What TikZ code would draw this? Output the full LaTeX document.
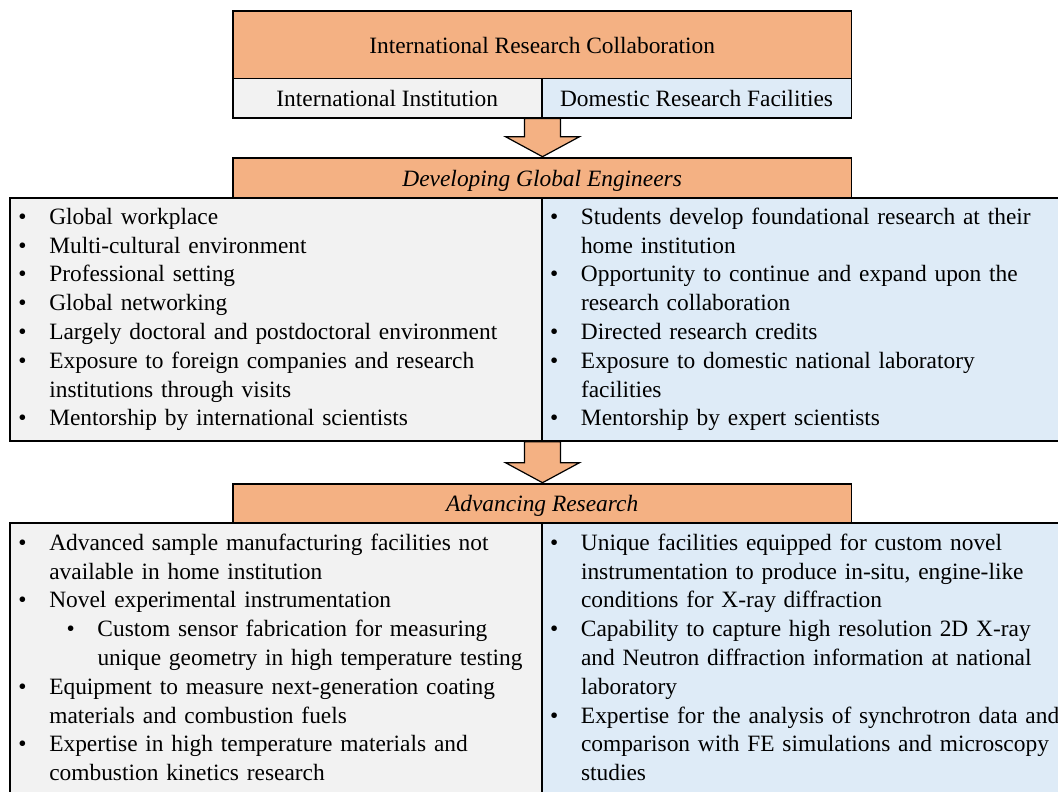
\documentclass[tikz,border=0pt]{standalone}
\usepackage{fontspec}
\setmainfont{Liberation Serif}
\usetikzlibrary{calc}

\definecolor{headfill}{HTML}{F4B183}
\definecolor{leftfill}{HTML}{F2F2F2}
\definecolor{rightfill}{HTML}{DEEBF7}

% bullet items with a hanging indent for wrapped lines
\newcommand{\itm}[1]{\noindent\hangindent=31pt\hangafter=1\strut\makebox[31pt][l]{•}#1\strut\par}
\newcommand{\subitm}[1]{\noindent\hangindent=79.2pt\hangafter=1\strut\hspace*{48.4pt}\makebox[30.8pt][l]{•}#1\strut\par}

\begin{document}
\begin{tikzpicture}[x=1pt,y=-1pt,
  font=\fontsize{23.4}{28.8}\selectfont,
  box/.style={draw=black, line width=1.8pt, anchor=north west, inner sep=0pt,
              text height=18pt, text depth=1pt},
  listtext/.style={anchor=north west, inner sep=0pt, text width=525pt, align=left,
              execute at begin node={\setlength{\parskip}{0pt}\hyphenpenalty=10000}},
  blockarrow/.style={draw=black, line width=1.2pt, fill=headfill, line join=miter}]

\useasboundingbox (0,0) rectangle (1058,792);
\clip (0,0) rectangle (1058,792);

% content panels
\node[box, fill=leftfill,  minimum width=531.7pt, minimum height=243.3pt] (gl) at (9,196.7) {};
\node[box, fill=rightfill, minimum width=535pt,   minimum height=243.3pt] (gr) at (540.7,196.7) {};
\node[box, fill=leftfill,  minimum width=531.7pt, minimum height=300pt]   (al) at (9,521.7) {};
\node[box, fill=rightfill, minimum width=535pt,   minimum height=300pt]   (ar) at (540.7,521.7) {};

% header blocks
\node[box, fill=headfill, minimum width=618.5pt, minimum height=67.7pt] (irc) at (232,10) {International Research Collaboration};
\node[box, fill=leftfill,  minimum width=308.7pt, minimum height=39pt] (intl) at (232,77.7) {International Institution};
\node[box, fill=rightfill, minimum width=309.8pt, minimum height=39pt] (dom) at (540.7,77.7) {Domestic Research Facilities};
\node[box, fill=headfill, minimum width=618.5pt, minimum height=40pt] (dge) at (232,156.7) {\itshape Developing Global Engineers};
\node[box, fill=headfill, minimum width=618.5pt, minimum height=39pt] (adv) at (232,482.7) {\itshape Advancing Research};

% block arrows between the stages
\path (intl.south east) coordinate (a1s) (intl.south east |- dge.north) coordinate (a1t);
\draw[blockarrow] ($(a1s)+(-18,0)$) -- ($(a1s)+(18,0)$) -- ($(a1t)+(18,-20)$) -- ($(a1t)+(37,-20)$)
  -- (a1t) -- ($(a1t)+(-37,-20)$) -- ($(a1t)+(-18,-20)$) -- cycle;
\path (gl.south east) coordinate (a2s) (gl.south east |- adv.north) coordinate (a2t);
\draw[blockarrow] ($(a2s)+(-18,0)$) -- ($(a2s)+(18,0)$) -- ($(a2t)+(18,-20)$) -- ($(a2t)+(37,-20)$)
  -- (a2t) -- ($(a2t)+(-37,-20)$) -- ($(a2t)+(-18,-20)$) -- cycle;

% bullet lists
\node[listtext] (gltext) at (18.1,203.84) {%
\itm{Global workplace}
\itm{Multi-cultural environment}
\itm{Professional setting}
\itm{Global networking}
\itm{Largely doctoral and postdoctoral environment}
\itm{Exposure to foreign companies and research\newline institutions through visits}
\itm{Mentorship by international scientists}};

\node[listtext] (grtext) at (549.8,203.84) {%
\itm{Students develop foundational research at their\newline home institution}
\itm{Opportunity to continue and expand upon the\newline research collaboration}
\itm{Directed research credits}
\itm{Exposure to domestic national laboratory\newline facilities}
\itm{Mentorship by expert scientists}};

\node[listtext] (altext) at (18.1,529.84) {%
\itm{Advanced sample manufacturing facilities not\newline available in home institution}
\itm{Novel experimental instrumentation}
\subitm{Custom sensor fabrication for measuring\newline unique geometry in high temperature testing}
\itm{Equipment to measure next-generation coating\newline materials and combustion fuels}
\itm{Expertise in high temperature materials and\newline combustion kinetics research}};

\node[listtext] (artext) at (549.8,529.84) {%
\itm{Unique facilities equipped for custom novel\newline instrumentation to produce in-situ, engine-like\newline conditions for X-ray diffraction}
\itm{Capability to capture high resolution 2D X-ray\newline and Neutron diffraction information at national\newline laboratory}
\itm{Expertise for the analysis of synchrotron data and\newline comparison with FE simulations and microscopy\newline studies}};

\end{tikzpicture}
\end{document}
